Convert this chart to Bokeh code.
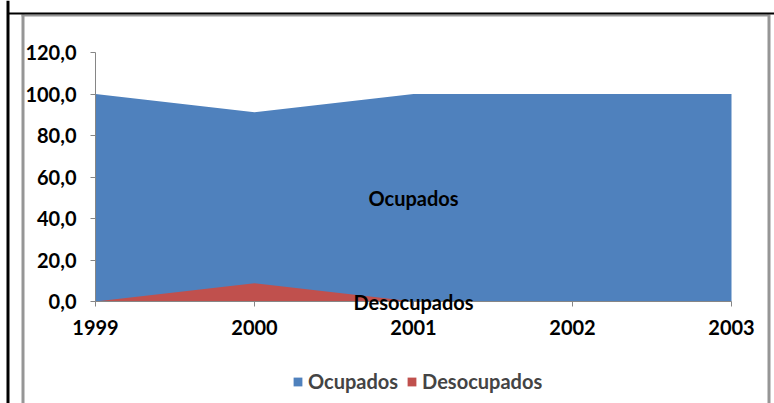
from bokeh.plotting import figure
from bokeh.models import (Range1d, FixedTicker, Legend, LegendItem, Label, BoxAnnotation,
                          LinearAxis)
from bokeh.embed import file_html
from bokeh.resources import INLINE

years = [1999, 2000, 2001, 2002, 2003]
year_labels = ["1999", "2000", "2001", "2002", "2003"]
ocupados = [100.0, 91.2, 100.0, 100.0, 100.0]
desocupados = [0.0, 8.8, 0.0, 0.0, 0.0]
y_ticks = [0, 20, 40, 60, 80, 100, 120]
y_tick_labels = ["0,0", "20,0", "40,0", "60,0", "80,0", "100,0", "120,0"]

BLUE = "#4F81BD"
RED = "#C0504D"
FONT = "Lato"
W, H = 774, 403
# pixel layout of the plot area on the canvas
PX_L, PX_R, PX_T, PX_B = 95, 731, 52, 301
x0, x1 = years[0], years[-1]
y0, y1 = y_ticks[0], y_ticks[-1]
sx = (PX_R - PX_L) / (x1 - x0)
sy = (PX_B - PX_T) / (y1 - y0)

p = figure(width=W, height=H, output_backend="svg", toolbar_location=None,
           x_axis_location=None, y_axis_location=None,
           x_range=Range1d(x0 - PX_L / sx, x1 + (W - PX_R) / sx),
           y_range=Range1d(y0 - (H - PX_B) / sy, y1 + PX_T / sy),
           min_border=0)
p.outline_line_color = None
p.xgrid.grid_line_color = None
p.ygrid.grid_line_color = None

# document frame lines and chart border (canvas pixels)
def bar(l, r, t, b, color):
    p.add_layout(BoxAnnotation(left=l, right=r, top=t, bottom=b,
                               left_units="canvas", right_units="canvas",
                               top_units="canvas", bottom_units="canvas",
                               fill_color=color, fill_alpha=1, line_color=None))

GRAY = "#969696"
bar(21, 768, 14, 16, GRAY)
bar(21, 24, 14, H, GRAY)
bar(767, 770, 14, H, GRAY)
bar(7, W, 12, 14, "black")
bar(6, 9, 0, H, "black")

r1 = p.varea(x=years, y1=0, y2=ocupados, fill_color=BLUE)
r2 = p.varea(x=years, y1=0, y2=desocupados, fill_color=RED)

xaxis = LinearAxis(fixed_location=y0, bounds=(x0, x1), ticker=FixedTicker(ticks=years),
                   major_label_overrides={y: l for y, l in zip(years, year_labels)},
                   major_label_standoff=13)
yaxis = LinearAxis(fixed_location=x0, bounds=(y0, y1), ticker=FixedTicker(ticks=y_ticks),
                   major_label_overrides={t: l for t, l in zip(y_ticks, y_tick_labels)},
                   major_label_standoff=14)
for ax in (xaxis, yaxis):
    ax.axis_line_color = "#868686"
    ax.major_tick_line_color = "#868686"
    ax.minor_tick_line_color = None
    ax.major_tick_out = 5
    ax.major_tick_in = 0
    ax.major_label_text_font = FONT
    ax.major_label_text_font_style = "bold"
    ax.major_label_text_font_size = "20px"
    ax.major_label_text_color = "black"
p.add_layout(xaxis, "below")
p.add_layout(yaxis, "left")

mid = years[len(years) // 2]
p.add_layout(Label(x=mid, y=max(ocupados) / 2, text="Ocupados", text_align="center",
                   text_baseline="middle", text_font=FONT, text_font_style="bold",
                   text_font_size="20px", text_color="black"))
p.add_layout(Label(x=mid, y=0, text="Desocupados", text_align="center",
                   text_baseline="middle", text_font=FONT, text_font_style="bold",
                   text_font_size="20px", text_color="black"))

legend = Legend(items=[LegendItem(label="Ocupados", renderers=[r1]),
                       LegendItem(label="Desocupados", renderers=[r2])],
                orientation="horizontal", location=(292, 10),
                glyph_width=11, glyph_height=11, label_standoff=5, spacing=8,
                padding=0, margin=0, border_line_color=None, background_fill_alpha=0,
                label_text_font=FONT, label_text_font_style="bold", label_text_font_size="20px")
p.add_layout(legend, "center")

open("out.html", "w").write(file_html(p, INLINE))
